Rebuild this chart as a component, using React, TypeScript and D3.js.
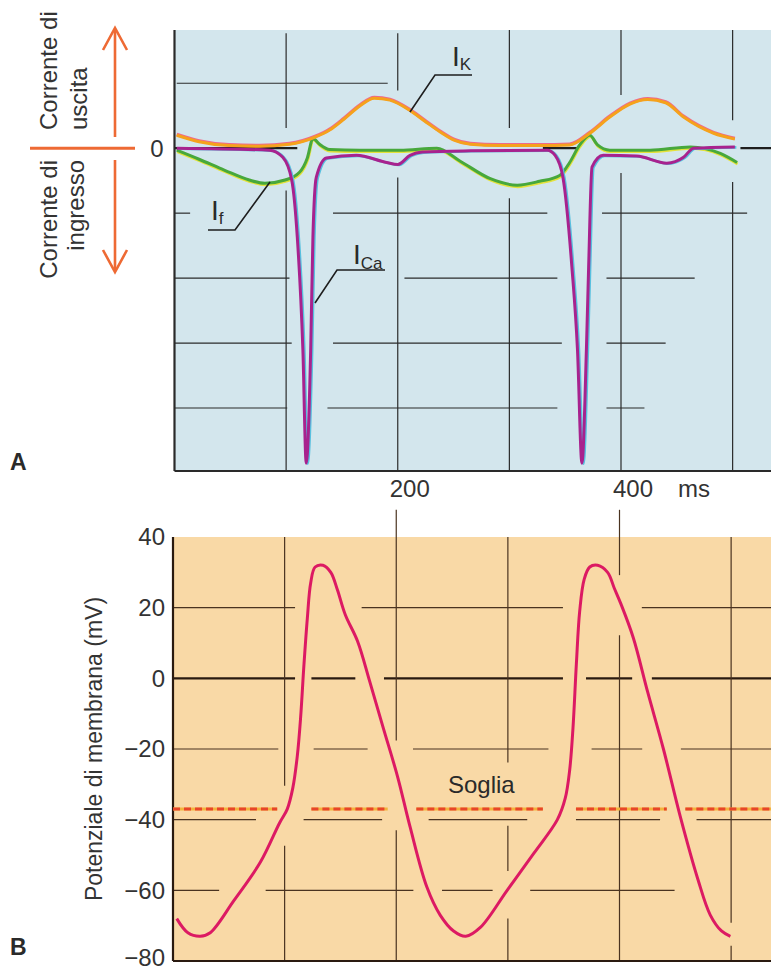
import React from 'react';
import * as d3 from 'd3';

// ---- data (time in ms) ----
const timeTicks = [200, 400];
const voltageTicks = [40, 20, 0, -20, -40, -60, -80];

// panel A currents (arbitrary units, 0 = no current)
const iK: [number, number][] = [
  [2, 0.2], [22, 0.1], [49, 0.04], [76, 0.03], [103, 0.06], [126, 0.17], [139, 0.28], [152, 0.45],
  [166, 0.65], [179, 0.77], [193, 0.74], [211, 0.58], [224, 0.42], [238, 0.25], [251, 0.12],
  [265, 0.06], [291, 0.04], [327, 0.04], [354, 0.05], [372, 0.23], [390, 0.48], [408, 0.68],
  [424, 0.75], [440, 0.7], [456, 0.48], [483, 0.23], [502, 0.14],
];
const iCa: [number, number][] = [
  [2, 0], [85, -0.03], [97, -0.14], [105, -0.49], [110, -1.37], [115, -3.1], [118, -4.85],
  [122, -3.1], [124, -1.37], [127, -0.45], [136, -0.15], [163, -0.11], [190, -0.22], [200, -0.25],
  [211, -0.11], [222, -0.06], [265, -0.04], [334, -0.03], [341, -0.11], [348, -0.45], [356, -1.83],
  [361, -3.1], [365, -4.85], [369, -3.1], [371, -1.83], [374, -0.29], [384, -0.11], [414, -0.12],
  [441, -0.23], [456, -0.14], [465, 0], [502, 0.02],
];
const iF: [number, number][] = [
  [2, -0.03], [22, -0.17], [45, -0.34], [67, -0.49], [81, -0.54], [99, -0.49], [112, -0.37],
  [119, -0.15], [124, 0.15], [130, 0.06], [139, -0.02], [166, -0.03], [202, -0.03], [235, 0],
  [256, -0.2], [283, -0.47], [307, -0.57], [327, -0.51], [345, -0.42], [354, -0.22], [363, 0.05],
  [372, 0.2], [379, 0.05], [390, -0.03], [426, -0.03], [462, 0.02], [489, -0.08], [504, -0.22],
];

// panel B membrane potential (mV)
const actionPotential: [number, number][] = [
  [2, -68], [12, -72], [23, -73], [32, -72], [53, -63], [77, -52], [94, -41], [101, -37],
  [106, -31], [110, -22], [113, -11], [116, 4], [119, 17], [122, 27], [126, 31.5], [133, 32],
  [140, 30], [146, 25], [153, 18], [164, 10.5], [175, -1], [187, -14], [200, -28], [211, -42],
  [226, -59], [238, -67], [250, -71.5], [261, -73], [274, -70.5], [298, -60], [322, -49.5],
  [343, -40], [350, -34], [354, -26], [357, -14], [360, 4], [363, 19], [367, 28], [372, 31.5],
  [379, 32], [388, 30], [394, 25.5], [400, 21], [411, 11.5], [424, -4], [438, -20], [453, -39],
  [469, -57], [480, -67], [490, -71.5], [498, -73],
];
const threshold = -37;
const thresholdSegs = [[0, 92], [124, 191], [218, 330], [361, 441], [459, 535]];

// broken grid lines
const gridAH = [
  { v: 1, segs: [[2, 191]] },
  { v: -1, segs: [[0, 14], [142, 334], [383, 513]] },
  { v: -2, segs: [[0, 103], [206, 343], [387, 466]] },
  { v: -3, segs: [[0, 105], [142, 347], [387, 440]] },
  { v: -4, segs: [[0, 101], [137, 343], [387, 421]] },
];
const zeroSegsA = [[0, 110], [330, 362], [507, 540]];
const gridAV = [
  { t: 100, segs: [[1.77, 0.31], [-0.65, -4.97]] },
  { t: 200, segs: [[1.77, 0.89], [-0.45, -4.97]] },
  { t: 300, segs: [[1.82, 0.31], [-0.77, -4.97]] },
  { t: 400, segs: [[1.82, 0.82], [-0.38, -4.97]] },
  { t: 500, segs: [[1.82, 0.43], [-0.52, -4.97]] },
];
const gridBH = [
  { v: 20, segs: [[0, 108], [169, 348], [420, 535]] },
  { v: 0, segs: [[0, 108], [124, 162], [189, 348], [370, 410], [429, 535]] },
  { v: -20, segs: [[0, 93], [126, 173], [215, 335], [375, 419], [455, 535]] },
  { v: -40, segs: [[0, 73], [117, 186], [229, 316], [361, 435], [469, 535]] },
  { v: -60, segs: [[0, 40], [83, 214], [241, 285], [320, 448]] },
];
const gridBV = [
  { t: 100, segs: [[40, -30.4], [-47.4, -80]] },
  { t: 200, segs: [[47.7, -17.6], [-43, -80]] },
  { t: 300, segs: [[40, -23.8], [-41.7, -54.5], [-68, -80]] },
  { t: 400, segs: [[47.7, 29.2], [12.2, -80]] },
  { t: 500, segs: [[40, -69.2], [-75.7, -80]] },
];

const W = 771;
const H = 971;
const font = 'Liberation Sans, Arial, Helvetica, sans-serif';

export default function App() {
  const x = d3.scaleLinear().domain([0, 400]).range([174.5, 621]);
  const yA = d3.scaleLinear().domain([-4.97, 1.82]).range([471, 30]);
  const yB = d3.scaleLinear().domain([-80, 40]).range([961, 537]);

  const lineA = d3.line<[number, number]>().x(d => x(d[0])).y(d => yA(d[1])).curve(d3.curveMonotoneX);
  const lineB = d3.line<[number, number]>().x(d => x(d[0])).y(d => yB(d[1])).curve(d3.curveCatmullRom.alpha(0.5));

  const arrow = '#ee6a34';
  const grid = '#2b2b2b';
  const gridB = '#4a3320';

  return (
    <svg width={W} height={H} style={{ position: 'absolute', left: 0, top: 0, background: '#fff' }} fontFamily={font}>
      {/* panel A */}
      <rect x={x(0)} y={yA(1.82)} width={W - x(0)} height={yA(-4.97) - yA(1.82)} fill="#d3e6ed" />
      {gridAH.map(g => g.segs.map((s, i) => (
        <line key={`ah${g.v}-${i}`} x1={x(s[0])} x2={x(s[1])} y1={yA(g.v)} y2={yA(g.v)} stroke={grid} strokeWidth={1.2} />
      )))}
      {gridAV.map(g => g.segs.map((s, i) => (
        <line key={`av${g.t}-${i}`} x1={x(g.t)} x2={x(g.t)} y1={yA(s[0])} y2={yA(s[1])} stroke={grid} strokeWidth={1.2} />
      )))}
      {zeroSegsA.map((s, i) => (
        <line key={`az${i}`} x1={x(s[0])} x2={x(s[1])} y1={yA(0)} y2={yA(0)} stroke="#1e1e1e" strokeWidth={2.2} />
      ))}
      <line x1={x(0)} x2={x(0)} y1={yA(1.82)} y2={yA(-4.97)} stroke="#2a2a2a" strokeWidth={2.2} />
      <line x1={x(0)} x2={W} y1={yA(-4.97)} y2={yA(-4.97)} stroke="#2a2a2a" strokeWidth={2} />

      {/* currents */}
      <path d={lineA(iF) || ''} fill="none" stroke="#e4e23a" strokeWidth={2.8} transform="translate(0.5,1.5)" />
      <path d={lineA(iF) || ''} fill="none" stroke="#47a83c" strokeWidth={3} />
      <path d={lineA(iK) || ''} fill="none" stroke="#ef6a8a" strokeWidth={3.4} transform="translate(0,-0.8)" />
      <path d={lineA(iK) || ''} fill="none" stroke="#f5a21c" strokeWidth={3} />
      <path d={lineA(iCa) || ''} fill="none" stroke="#58c0df" strokeWidth={2.6} transform="translate(1.5,0.5)" />
      <path d={lineA(iCa) || ''} fill="none" stroke="#a8228e" strokeWidth={3} />

      {/* current labels */}
      <polyline points="472,75 435,75 410,112" fill="none" stroke="#1e1e1e" strokeWidth={1.6} />
      <text x={452} y={66} fontSize={28} fill="#2a2a2a">I<tspan fontSize={17} dy={4}>K</tspan></text>
      <polyline points="208,230 235,230 270,182" fill="none" stroke="#1e1e1e" strokeWidth={1.6} />
      <text x={211} y={220} fontSize={28} fill="#2a2a2a">I<tspan fontSize={17} dy={4}>f</tspan></text>
      <polyline points="385,270 337,270 315,303" fill="none" stroke="#1e1e1e" strokeWidth={1.6} />
      <text x={353} y={264} fontSize={28} fill="#2a2a2a">I<tspan fontSize={17} dy={5}>Ca</tspan></text>

      {/* left annotation of A */}
      <text x={157} y={yA(0)} dy="0.35em" textAnchor="middle" fontSize={24} fill="#333">0</text>
      <line x1={30} x2={135} y1={yA(0)} y2={yA(0)} stroke={arrow} strokeWidth={3} />
      <line x1={115} x2={115} y1={137} y2={29} stroke={arrow} strokeWidth={2.6} />
      <polyline points="103,50 115,28 127,50" fill="none" stroke={arrow} strokeWidth={2.6} />
      <line x1={115} x2={115} y1={160} y2={271} stroke={arrow} strokeWidth={2.6} />
      <polyline points="103,250 115,272 127,250" fill="none" stroke={arrow} strokeWidth={2.6} />
      <text transform="translate(57,130) rotate(-90)" fontSize={24} fill="#333">Corrente di</text>
      <text transform="translate(87,130) rotate(-90)" fontSize={24} fill="#333">uscita</text>
      <text transform="translate(57,160) rotate(-90)" textAnchor="end" fontSize={24} fill="#333">Corrente di</text>
      <text transform="translate(84,160) rotate(-90)" textAnchor="end" fontSize={24} fill="#333">ingresso</text>
      <text x={10} y={470} fontSize={23} fontWeight="bold" fill="#2a2a2a">A</text>

      {/* time ticks */}
      {timeTicks.map(t => (
        <text key={t} x={x(t) + 12} y={497} textAnchor="middle" fontSize={24} fill="#333">{t}</text>
      ))}
      <text x={x(400) + 73} y={497} textAnchor="middle" fontSize={24} fill="#333">ms</text>

      {/* panel B */}
      <rect x={x(0) - 1.5} y={yB(40)} width={W - x(0) + 1.5} height={yB(-80) - yB(40)} fill="#f9d9a6" />
      {gridBH.map(g => g.segs.map((s, i) => (
        <line key={`bh${g.v}-${i}`} x1={x(s[0]) - 1.5} x2={x(s[1])} y1={yB(g.v)} y2={yB(g.v)}
          stroke={g.v === 0 ? '#2a1a10' : gridB} strokeWidth={g.v === 0 ? 2.4 : 1.2} />
      )))}
      {gridBV.map(g => g.segs.map((s, i) => (
        <line key={`bv${g.t}-${i}`} x1={x(g.t) - 1.5} x2={x(g.t) - 1.5} y1={yB(s[0])} y2={yB(s[1])} stroke={gridB} strokeWidth={1.2} />
      )))}
      <line x1={x(0) - 1.5} x2={x(0) - 1.5} y1={yB(40)} y2={yB(-80)} stroke="#2a1a10" strokeWidth={2.2} />
      <line x1={x(0) - 1.5} x2={W} y1={yB(-80)} y2={yB(-80)} stroke="#2a1a10" strokeWidth={2} />

      {/* threshold */}
      {thresholdSegs.map((s, i) => (
        <g key={`th${i}`}>
          <line x1={x(s[0]) - 1.5} x2={x(s[1])} y1={yB(threshold)} y2={yB(threshold)} stroke="#f3b43c" strokeWidth={3} />
          <line x1={x(s[0]) - 1.5} x2={x(s[1])} y1={yB(threshold)} y2={yB(threshold)} stroke="#e8452a" strokeWidth={3} strokeDasharray="7,4" />
        </g>
      ))}
      <text x={448} y={yB(threshold) - 16} fontSize={24} fill="#2a2a2a">Soglia</text>

      <path d={lineB(actionPotential) || ''} fill="none" stroke="#dc1a63" strokeWidth={3} />

      {/* y axis B */}
      {voltageTicks.map(v => (
        <text key={v} x={165} y={yB(v) - (v === -80 ? 3 : 0)} dy="0.35em" textAnchor="end" fontSize={24} fill="#333">
          {v < 0 ? `\u2212${-v}` : v}
        </text>
      ))}
      <text transform={`translate(102,${yB(-20)}) rotate(-90)`} textAnchor="middle" fontSize={23} fill="#333">
        Potenziale di membrana (mV)
      </text>
      <text x={10} y={955} fontSize={23} fontWeight="bold" fill="#2a2a2a">B</text>
    </svg>
  );
}
